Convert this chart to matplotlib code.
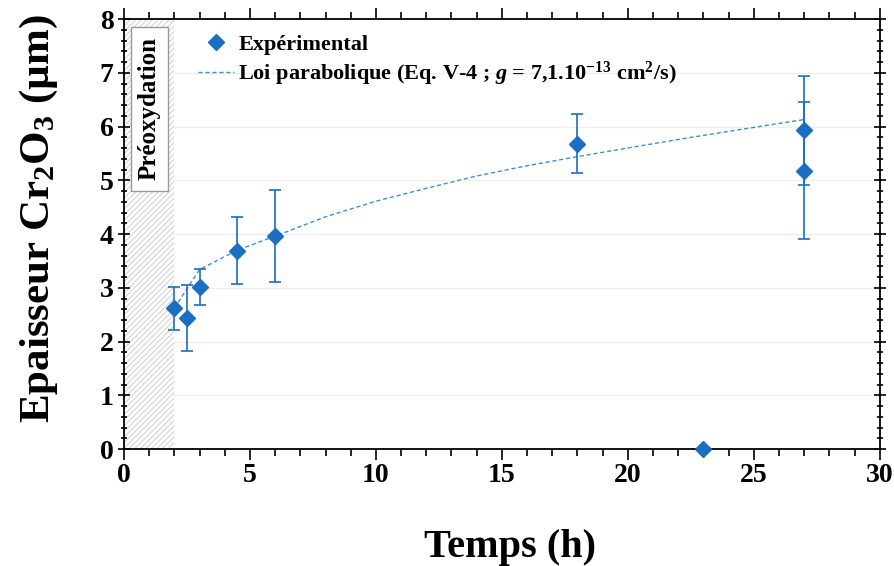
import matplotlib
matplotlib.use("Agg")
import matplotlib.pyplot as plt
from matplotlib.patches import Rectangle
from matplotlib.lines import Line2D
from matplotlib.ticker import MultipleLocator

# experimental thickness (um) vs time (h)
t_exp = [2, 2.5, 3, 4.5, 6, 18, 27, 27]
e_exp = [2.62, 2.44, 3.01, 3.69, 3.96, 5.68, 5.93, 5.18]
e_err = [0.40, 0.62, 0.33, 0.62, 0.86, 0.55, 1.01, 1.27]

# point without error bar
t_zero = [23]
e_zero = [0]

# parabolic law
t_fit = [2, 3, 4.5, 6, 8, 10, 12, 14, 16, 18, 20, 22, 24, 27]
e_fit = [2.62, 3.34, 3.70, 3.96, 4.32, 4.61, 4.85, 5.08, 5.27, 5.44, 5.60, 5.76, 5.91, 6.13]

blue = '#1B6EC2'
fit_blue = '#3D8FD9'

plt.rcParams['font.family'] = ['Liberation Serif', 'DejaVu Serif']
plt.rcParams['font.weight'] = 'bold'
plt.rcParams['mathtext.fontset'] = 'custom'
plt.rcParams['mathtext.rm'] = 'Liberation Serif:bold'
plt.rcParams['mathtext.it'] = 'Liberation Serif:italic:bold'
plt.rcParams['mathtext.bf'] = 'Liberation Serif:bold'
plt.rcParams['hatch.linewidth'] = 0.7

fig = plt.figure(figsize=(8.95, 5.66), dpi=100)
ax = fig.add_axes([0.1385, 0.2067, 0.8445, 0.7597])

# preoxidation zone
ax.add_patch(Rectangle((0, 0), 2, 8, facecolor='white', edgecolor='#CFCFCF',
                       lw=0, hatch='//////', zorder=1))
ax.add_patch(Rectangle((0.28, 4.8), 1.47, 3.05, facecolor='white',
                       edgecolor='#999999', lw=1, zorder=2))
ax.text(1.0, 6.33, 'Préoxydation', rotation=90, ha='center', va='center',
        fontsize=18, fontweight='bold', zorder=3)

for yv in range(1, 8):
    ax.axhline(yv, color='#EEEEEE', lw=1, zorder=0)

ax.plot(t_fit, e_fit, linestyle=(0, (3, 2)), color=fit_blue, lw=1, zorder=4)
ax.errorbar(t_exp, e_exp, yerr=e_err, fmt='D', color=blue, ms=8,
            ecolor=blue, elinewidth=1.2, capsize=4, capthick=1.2, zorder=5)
ax.plot(t_zero, e_zero, 'D', color=blue, ms=8, clip_on=False, zorder=6)

ax.set_xlim(0, 30)
ax.set_ylim(0, 8)
ax.xaxis.set_major_locator(MultipleLocator(5))
ax.xaxis.set_minor_locator(MultipleLocator(1))
ax.yaxis.set_major_locator(MultipleLocator(1))
ax.yaxis.set_minor_locator(MultipleLocator(0.2))
ax.tick_params(axis='both', which='both', top=True, right=True, direction='out',
               labelsize=20, width=1.2)
ax.tick_params(axis='both', which='major', length=8)
ax.tick_params(axis='both', which='minor', length=5)
ax.tick_params(axis='x', which='major', pad=2)
ax.tick_params(axis='y', which='both', left=True, direction='inout')
for lbl in ax.get_xticklabels() + ax.get_yticklabels():
    lbl.set_fontweight('bold')
for sp in ax.spines.values():
    sp.set_linewidth(1.3)

ax.set_xlabel('Temps (h)', fontsize=29, fontweight='bold')
ax.set_ylabel('Epaisseur Cr$_2$O$_3$ (µm)', fontsize=31, fontweight='bold')
ax.xaxis.set_label_coords(0.511, -0.185)
ax.yaxis.set_label_coords(-0.085, 0.535)

handles = [Line2D([], [], marker='D', color=blue, ls='none', ms=8),
           Line2D([], [], color=fit_blue, lw=1, ls=(0, (3, 2)))]
labels = ['Expérimental',
          'Loi parabolique (Eq. V-4 ; $\\mathit{g}$ = 7,1.10$^{-13}$ cm$^{2}$/s)']
ax.legend(handles, labels, loc='upper left', bbox_to_anchor=(0.072, 1.01),
          frameon=False, handlelength=1.6, handletextpad=0.2,
          labelspacing=0.2, prop={'weight': 'bold', 'size': 16})

fig.savefig('out.png', dpi=100)
